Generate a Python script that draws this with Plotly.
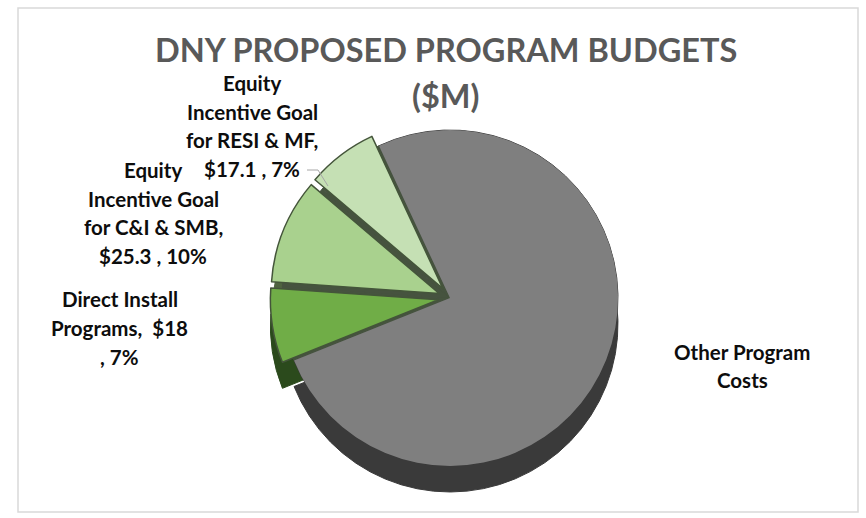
import plotly.graph_objects as go

# Budget categories and amounts ($M)
categories = [
    "Other Program Costs",
    "Direct Install Programs",
    "Equity Incentive Goal for C&I & SMB",
    "Equity Incentive Goal for RESI & MF",
]
values = [190.0, 18.0, 25.3, 17.1]

top_colors = ["#7f7f7f", "#70ad47", "#a9d18e", "#c5e0b4"]
side_colors = ["#3a3a3a", "#2b4a1c", "#4f6340", "#5d7050"]
core_colors = ["#3a3a3a", "#46533f", "#46533f", "#46533f"]
edge_colors = ["#7f7f7f", "#44553a", "#44553a", "#44553a"]
pulls = [0, 0.07, 0.07, 0.07]

title_lines = ["DNY PROPOSED PROGRAM BUDGETS", "($M)"]

total = sum(values)
money = [f"${v:g}" for v in values]
pct = [f"{round(100 * v / total)}%" for v in values]

label_lines = [
    ["Other Program", "Costs"],
    ["Direct Install", f"Programs,  {money[1]}", f", {pct[1]}"],
    ["Equity", "Incentive Goal", "for C&I & SMB,", f"{money[2]} , {pct[2]}"],
    ["Equity", "Incentive Goal", "for RESI & MF,", f"{money[3]} , {pct[3]}"],
]
# label centres in pixels (x, y) and line pitch
label_pos = [(742, 366), (120, 328), (153, 213), (252, 126)]
LINE_PITCH = 28.8

W, H = 866, 518
R = 168
CX, CY = 450, 298
DEPTH = 26
half = R * (1 + max(pulls))


def dom(cx, cy, h):
    return dict(
        x=[(cx - h) / W, (cx + h) / W],
        y=[(H - cy - h) / H, (H - cy + h) / H],
    )


fig = go.Figure()

# lower layer gives the pie its thickness
fig.add_trace(go.Pie(
    labels=categories, values=values, sort=False, direction="clockwise",
    rotation=-25, pull=pulls, domain=dom(CX, CY + DEPTH, half),
    marker=dict(colors=side_colors, line=dict(color=side_colors, width=1)),
    textinfo="none", hoverinfo="skip", showlegend=False,
))

# dark core seen through the gaps of the exploded slices
fig.add_trace(go.Pie(
    labels=categories, values=values, sort=False, direction="clockwise",
    rotation=-25, domain=dom(CX, CY, R),
    marker=dict(colors=core_colors, line=dict(color=core_colors, width=1)),
    textinfo="none", hoverinfo="skip", showlegend=False,
))

# top surface
fig.add_trace(go.Pie(
    labels=categories, values=values, sort=False, direction="clockwise",
    rotation=-25, pull=pulls, domain=dom(CX, CY, half),
    marker=dict(colors=top_colors, line=dict(color=edge_colors, width=[0, 1.5, 1.5, 1.5])),
    textinfo="none", hovertemplate="%{label}: $%{value}M (%{percent})<extra></extra>",
    showlegend=False,
))

for lines, (x, y) in zip(label_lines, label_pos):
    n = len(lines)
    for i, line in enumerate(lines):
        ly = y + (i - (n - 1) / 2) * LINE_PITCH
        fig.add_annotation(
            x=x / W, y=1 - ly / H, xref="paper", yref="paper",
            text=f"<b>{line}</b>", showarrow=False, xanchor="center", yanchor="middle",
            font=dict(family="Lato", size=20.5, color="#0d0d0d"),
        )

# chart title, two lines
for txt, y in zip(title_lines, [49, 96]):
    fig.add_annotation(
        x=446 / W, y=1 - y / H, xref="paper", yref="paper",
        text=f"<b>{txt}</b>", showarrow=False, xanchor="center", yanchor="middle",
        font=dict(family="Lato", size=32.5, color="#595959"),
    )

# leader line for the RESI & MF label
fig.add_shape(type="path", xref="paper", yref="paper",
              path=f"M {307/W},{1-170/H} L {318/W},{1-170/H} L {328/W},{1-186/H}",
              line=dict(color="#a6a6a6", width=1))

# chart frame
fig.add_shape(type="rect", xref="paper", yref="paper",
              x0=18 / W, x1=858 / W, y0=1 - 512 / H, y1=1 - 8 / H,
              line=dict(color="#d9d9d9", width=1.5))

fig.update_layout(
    width=W, height=H,
    margin=dict(l=0, r=0, t=0, b=0),
    paper_bgcolor="white", plot_bgcolor="white",
)

fig.write_html("out.html")
